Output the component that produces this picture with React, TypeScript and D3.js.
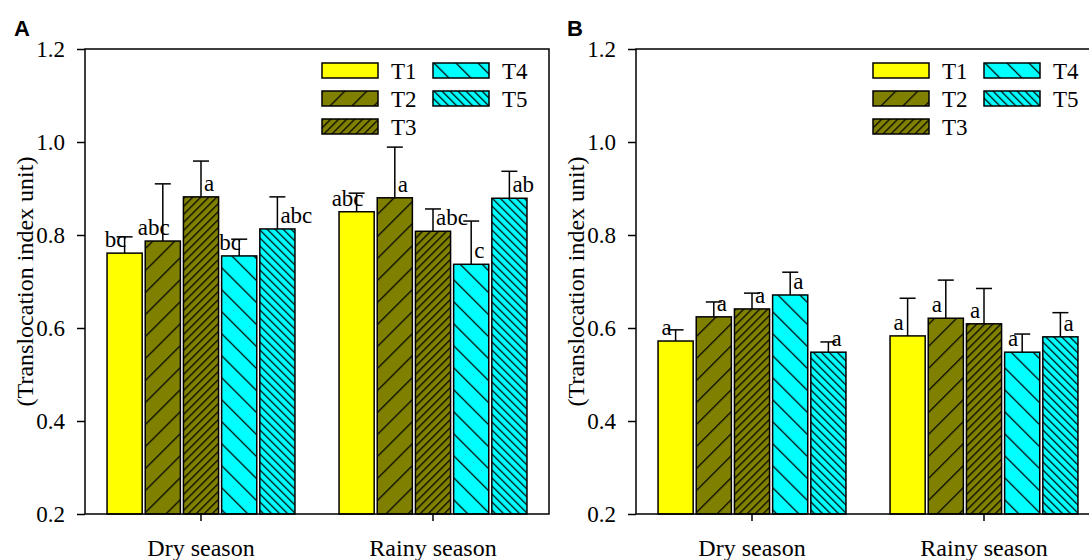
import React, { useEffect, useRef } from "react";
import * as d3 from "d3";

// categories and series
const seasons = ["Dry season", "Rainy season"];
const treatments = ["T1", "T2", "T3", "T4", "T5"];
const yTicks = [0.2, 0.4, 0.6, 0.8, 1.0, 1.2];

// panel A values (mean, upper error) and letters
const meanA = [
  [0.761, 0.787, 0.882, 0.755, 0.813],
  [0.85, 0.88, 0.808, 0.737, 0.879],
];
const errA = [
  [0.035, 0.123, 0.077, 0.036, 0.069],
  [0.04, 0.109, 0.048, 0.093, 0.058],
];
const lettersA = [
  ["bc", "abc", "a", "bc", "abc"],
  ["abc", "a", "abc", "c", "ab"],
];
const sideA = [
  ["l", "l", "r", "l", "r"],
  ["l", "r", "r", "r", "r"],
];

// panel B
const meanB = [
  [0.572, 0.624, 0.641, 0.671, 0.548],
  [0.583, 0.621, 0.609, 0.548, 0.581],
];
const errB = [
  [0.024, 0.032, 0.034, 0.049, 0.022],
  [0.081, 0.082, 0.076, 0.039, 0.052],
];
const lettersB = [
  ["a", "a", "a", "a", "a"],
  ["a", "a", "a", "a", "a"],
];
const sideB = [
  ["l", "r", "r", "r", "r"],
  ["l", "l", "l", "l", "r"],
];

const fills = ["#ffff00", "url(#pT2)", "url(#pT3)", "url(#pT4)", "url(#pT5)"];
const serif = "Liberation Serif, Times New Roman, serif";

const App = () => {
  const ref = useRef<SVGSVGElement | null>(null);

  useEffect(() => {
    const svg = d3.select(ref.current);
    svg.selectAll("*").remove();

    // hatch patterns
    const defs = svg.append("defs");
    const hatch = (id: string, color: string, step: number, angle: number) => {
      const p = step / Math.SQRT2;
      const pat = defs
        .append("pattern")
        .attr("id", id)
        .attr("patternUnits", "userSpaceOnUse")
        .attr("width", p)
        .attr("height", p)
        .attr("patternTransform", `rotate(${angle})`);
      pat.append("rect").attr("width", p).attr("height", p).attr("fill", color);
      pat
        .append("line")
        .attr("x1", 0.6)
        .attr("x2", 0.6)
        .attr("y1", 0)
        .attr("y2", p)
        .attr("stroke", "#000")
        .attr("stroke-width", 1.3);
    };
    hatch("pT2", "#808000", 22, 45);
    hatch("pT3", "#808000", 8, 45);
    hatch("pT4", "#00ffff", 22, -45);
    hatch("pT5", "#00ffff", 8, -45);

    const top = 49;
    const bottom = 514;
    const width = 464;

    const y = d3.scaleLinear().domain([0.2, 1.2]).range([bottom, top]);
    const x0 = d3.scaleBand().domain(seasons).range([0, width]).paddingInner(0.19).paddingOuter(0.095);
    const x1 = d3.scaleBand().domain(treatments).range([0, x0.bandwidth()]).paddingInner(0.08);

    const drawPanel = (
      left: number,
      tagX: number,
      tag: string,
      means: number[][],
      errs: number[][],
      letters: string[][],
      sides: string[][]
    ) => {
      const g = svg.append("g").attr("transform", `translate(${left},0)`);

      // bars, error bars, letters
      seasons.forEach((s, si) => {
        treatments.forEach((t, ti) => {
          const bx = (x0(s) as number) + (x1(t) as number);
          const bw = x1.bandwidth();
          const cx = bx + bw / 2;
          const v = means[si][ti];
          const e = errs[si][ti];
          g.append("rect")
            .attr("x", bx)
            .attr("y", y(v))
            .attr("width", bw)
            .attr("height", y(0.2) - y(v))
            .attr("fill", fills[ti])
            .attr("stroke", "#000")
            .attr("stroke-width", 1.5);
          g.append("line")
            .attr("x1", cx).attr("x2", cx)
            .attr("y1", y(v)).attr("y2", y(v + e))
            .attr("stroke", "#000").attr("stroke-width", 1.5);
          g.append("line")
            .attr("x1", cx - 8).attr("x2", cx + 8)
            .attr("y1", y(v + e)).attr("y2", y(v + e))
            .attr("stroke", "#000").attr("stroke-width", 1.5);
          const onLeft = sides[si][ti] === "l";
          g.append("text")
            .attr("x", onLeft ? cx - 9 : cx + 3)
            .attr("y", y(v) - 6)
            .attr("text-anchor", onLeft ? "middle" : "start")
            .attr("font-family", serif)
            .attr("font-size", 23)
            .text(letters[si][ti]);
        });
      });

      // frame
      g.append("rect")
        .attr("x", 0)
        .attr("y", top)
        .attr("width", width)
        .attr("height", bottom - top)
        .attr("fill", "none")
        .attr("stroke", "#000")
        .attr("stroke-width", 1.5);

      // y axis
      const ya = g
        .append("g")
        .call(d3.axisLeft(y).tickValues(yTicks).tickFormat(d3.format(".1f")).tickSize(8).tickPadding(12));
      ya.attr("font-family", serif).attr("font-size", 23);
      ya.select(".domain").remove();
      ya.selectAll("line").attr("stroke-width", 1.5);

      // x axis
      const xa = g
        .append("g")
        .attr("transform", `translate(0,${bottom})`)
        .call(d3.axisBottom(x0).tickSize(7).tickPadding(18));
      xa.attr("font-family", serif).attr("font-size", 24);
      xa.select(".domain").remove();
      xa.selectAll("line").attr("stroke-width", 1.5);

      // y title
      g.append("text")
        .attr("transform", `translate(-52,${(top + bottom) / 2}) rotate(-90)`)
        .attr("text-anchor", "middle")
        .attr("font-family", serif)
        .attr("font-size", 24)
        .text("(Translocation index unit)");

      // panel tag
      g.append("text")
        .attr("x", tagX - left)
        .attr("y", 36)
        .attr("font-family", "Liberation Sans, Arial, sans-serif")
        .attr("font-weight", "bold")
        .attr("font-size", 22)
        .text(tag);

      // legend
      const lg = g.append("g").attr("transform", `translate(237,${top + 14})`);
      treatments.forEach((t, i) => {
        const col = Math.floor(i / 3);
        const row = i % 3;
        const item = lg.append("g").attr("transform", `translate(${col * 111},${row * 28})`);
        item
          .append("rect")
          .attr("width", 56)
          .attr("height", 15)
          .attr("fill", fills[i])
          .attr("stroke", "#000")
          .attr("stroke-width", 1.5);
        item
          .append("text")
          .attr("x", 69)
          .attr("y", 7.5)
          .attr("dy", "0.35em")
          .attr("font-family", serif)
          .attr("font-size", 23)
          .text(t);
      });
    };

    drawPanel(85, 14, "A", meanA, errA, lettersA, sideA);
    drawPanel(636, 567, "B", meanB, errB, lettersB, sideB);

    return () => {
      d3.select(ref.current).selectAll("*").remove();
    };
  }, []);

  return (
    <svg
      ref={ref}
      width={1089}
      height={560}
      style={{ position: "absolute", left: 0, top: 0, background: "#fff" }}
    ></svg>
  );
};

export default App;
